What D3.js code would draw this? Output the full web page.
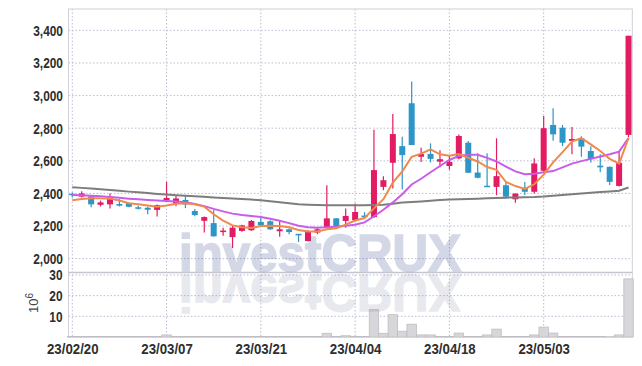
<!DOCTYPE html>
<html>
<head>
<meta charset="utf-8">
<script src="https://cdn.jsdelivr.net/npm/d3@7"></script>
<style>
  body { margin: 0; background: #fff; }
  .eje text { font-family: "Liberation Sans", Arial, sans-serif; font-weight: bold; font-size: 15px; fill: #2e2e2e; }
</style>
</head>
<body>
<svg id="grafica"></svg>
<script>
// fechas de cada vela (aa/mm/dd)
const dates = ["23/02/20","23/02/21","23/02/22","23/02/23","23/02/24","23/02/27","23/02/28","23/03/02","23/03/03","23/03/06",
  "23/03/07","23/03/08","23/03/09","23/03/10","23/03/13","23/03/14","23/03/15","23/03/16","23/03/17","23/03/20",
  "23/03/21","23/03/22","23/03/23","23/03/24","23/03/27","23/03/28","23/03/29","23/03/30","23/03/31","23/04/03",
  "23/04/04","23/04/05","23/04/06","23/04/07","23/04/10","23/04/11","23/04/12","23/04/13","23/04/14","23/04/17",
  "23/04/18","23/04/19","23/04/20","23/04/21","23/04/24","23/04/25","23/04/26","23/04/27","23/04/28","23/05/02",
  "23/05/03","23/05/04","23/05/08","23/05/09","23/05/10","23/05/11","23/05/12","23/05/15","23/05/16","23/05/17"];

const open  = [2398,2380,2381,2330,2333,2335,2340,2315,2312,2299, 2358,2338,2360,2292,2232,2218,2163,2132,2170,2174,
  2225,2229,2168,2180,2152,2108,2160,2190,2247,2231, 2236,2264,2255,2440,2588,2690,2953,2625,2642,2595,
  2568,2615,2711,2528,2447,2440,2450,2364,2435,2410, 2539,2820,2803,2722,2738,2660,2570,2563,2446,2759];
const high  = [2405,2413,2385,2356,2400,2365,2345,2325,2318,2332, 2471,2385,2390,2305,2258,2300,2190,2205,2208,2237,
  2255,2235,2237,2185,2152,2175,2188,2450,2250,2307, 2338,2285,2790,2505,2887,2748,3086,2680,2707,2665,
  2630,2762,2721,2646,2646,2738,2470,2400,2470,2615, 2875,2922,2820,2808,2750,2690,2640,2565,2655,3367];
const low   = [2375,2375,2315,2320,2308,2320,2315,2302,2272,2258, 2350,2322,2310,2260,2160,2135,2140,2065,2165,2170,
  2195,2175,2135,2150,2102,2105,2150,2185,2190,2190, 2228,2245,2250,2420,2430,2424,2697,2592,2590,2560,
  2545,2610,2525,2493,2442,2389,2369,2342,2390,2400, 2535,2723,2690,2640,2625,2590,2530,2452,2443,2745];
const close = [2390,2400,2333,2345,2375,2325,2318,2311,2300,2328, 2372,2369,2332,2268,2255,2137,2172,2190,2204,2231,
  2205,2180,2180,2163,2147,2163,2180,2247,2195,2262, 2286,2254,2543,2481,2764,2635,2697,2641,2612,2610,
  2594,2752,2527,2496,2443,2506,2380,2399,2410,2584, 2800,2762,2711,2734,2687,2610,2560,2471,2588,3367];

// volumen en millones
const volume = [0.2,0.2,0.2,0.2,0.2,0.2,0.2,0.2,0.2,0.2, 1.0,0.2,0.2,0.2,0.2,0.2,0.2,0.2,0.2,0.2,
  0.2,0.2,0.2,0.2,0.2,0.2,0.2,1.8,0.3,0.6, 0.3,0.3,13.2,1.8,10.8,2.8,6.2,1.0,1.0,0.3,
  0.3,1.9,0.3,0.3,1.0,3.8,0.3,0.3,0.3,1.0, 4.8,1.9,0.3,0.3,0.3,0.3,0.3,0.1,1.0,28.1];

// medias móviles
const ma_short = [2358,2366,2370,2370,2368,2356,2340,2334,2326,2318, 2326,2336,2340,2334,2319,2272,2233,2204,2192,2188,
  2200,2202,2200,2192,2176,2167,2167,2180,2187,2209, 2234,2249,2308,2365,2466,2535,2624,2644,2670,2640,
  2631,2642,2619,2596,2562,2545,2470,2445,2428,2456, 2515,2591,2653,2718,2739,2701,2660,2612,2583,2740];
const ma_mid = [2390,2388,2385,2382,2378,2373,2368,2364,2360,2356, 2353,2350,2346,2335,2322,2305,2290,2276,2268,2262,
  2255,2245,2232,2218,2202,2193,2190,2192,2196,2202, 2208,2222,2260,2300,2345,2395,2455,2490,2530,2568,
  2605,2630,2637,2637,2618,2596,2565,2535,2518,2520, 2530,2537,2560,2583,2598,2612,2626,2640,2656,2740];
const ma_long = [2438,2434,2430,2425,2421,2416,2411,2407,2402,2397, 2393,2389,2385,2382,2379,2375,2372,2369,2366,2362,
  2358,2352,2346,2340,2334,2331,2329,2328,2327,2327, 2327,2328,2329,2331,2336,2344,2348,2351,2355,2359,
  2362,2364,2366,2368,2370,2372,2374,2375,2377,2378, 2381,2386,2391,2395,2399,2404,2408,2412,2416,2436];

const price_ticks = [2000,2200,2400,2600,2800,3000,3200,3400];
const vol_ticks = [10,20,30];
const date_ticks = ["23/02/20","23/03/07","23/03/21","23/04/04","23/04/18","23/05/03"];

const svg_w = 642;
const svg_h = 366;
const margin = {l:68.5, r:9.7, t:9}
const price_bottom = 272.5; // separación entre precio y volumen
const vol_bottom = 337;
const plot_w = svg_w - margin.l - margin.r;

const color_up = "#e31b63";
const color_down = "#2e95c7";

// ancho estrecho de las etiquetas (la fuente original es condensada)
function label_len(s) {
  let w = 0;
  for (const c of s) w += c == "," ? 3.4 : c == "/" ? 6 : 6.6;
  return w;
}

let svg = d3.select("#grafica")
  .attr("width", svg_w)
  .attr("height", svg_h)

let x_scale = d3.scalePoint()
  .domain(dates)
  .range([margin.l, svg_w - margin.r])
  .padding(0.4)

let y_scale = d3.scaleLinear()
  .domain([1915, 3531])
  .range([price_bottom, margin.t])

let v_scale = d3.scaleLinear()
  .domain([0, 31.2])
  .range([vol_bottom, price_bottom])

// rejilla punteada
let grid = svg.append("g")
grid.selectAll(".hp")
  .data(price_ticks)
  .enter()
  .append("line")
  .attr("x1", margin.l).attr("x2", svg_w - margin.r)
  .attr("y1", d => y_scale(d)).attr("y2", d => y_scale(d))
grid.selectAll(".hv")
  .data(vol_ticks)
  .enter()
  .append("line")
  .attr("x1", margin.l).attr("x2", svg_w - margin.r)
  .attr("y1", d => v_scale(d)).attr("y2", d => v_scale(d))
grid.selectAll(".vx")
  .data(date_ticks)
  .enter()
  .append("line")
  .attr("x1", d => x_scale(d)).attr("x2", d => x_scale(d))
  .attr("y1", margin.t).attr("y2", vol_bottom)
grid.selectAll("line")
  .attr("stroke", "#b9bdd0")
  .attr("stroke-width", 1)
  .attr("stroke-dasharray", "1.5,2")

// marco de los paneles
svg.append("rect")
  .attr("x", margin.l).attr("y", margin.t)
  .attr("width", plot_w).attr("height", vol_bottom - margin.t)
  .attr("fill", "none")
  .attr("stroke", "#cfd0d8")
svg.append("line")
  .attr("x1", margin.l).attr("x2", svg_w - margin.r)
  .attr("y1", price_bottom).attr("y2", price_bottom)
  .attr("stroke", "#c4c5cf")
  .attr("stroke-width", 1.5)

// volumen
svg.append("g")
  .selectAll("rect")
  .data(volume)
  .enter()
  .append("rect")
  .attr("x", (d,i) => x_scale(dates[i]) - x_scale.step()/2)
  .attr("y", d => v_scale(d))
  .attr("width", x_scale.step())
  .attr("height", d => vol_bottom - v_scale(d))
  .attr("fill", "#d7d7db")
  .attr("stroke", "#bdbdc3")
  .attr("stroke-width", 0.8)

// velas
let candles = svg.append("g")
  .selectAll("g")
  .data(dates)
  .enter()
  .append("g")
  .attr("transform", d => `translate(${x_scale(d)},0)`)

candles.append("line")
  .attr("y1", (d,i) => y_scale(high[i]))
  .attr("y2", (d,i) => y_scale(low[i]))
  .attr("stroke", (d,i) => close[i] >= open[i] ? color_up : color_down)
  .attr("stroke-width", 1.2)

candles.append("rect")
  .attr("x", -3)
  .attr("width", 6)
  .attr("y", (d,i) => y_scale(Math.max(open[i], close[i])))
  .attr("height", (d,i) => Math.max(1.5, Math.abs(y_scale(open[i]) - y_scale(close[i]))))
  .attr("fill", (d,i) => close[i] >= open[i] ? color_up : color_down)

// medias móviles
let line = d3.line()
  .x((d,i) => x_scale(dates[i]))
  .y(d => y_scale(d))

svg.append("path").datum(ma_long)
  .attr("d", line).attr("fill", "none")
  .attr("stroke", "#7d7d7d").attr("stroke-width", 2)
svg.append("path").datum(ma_mid)
  .attr("d", line).attr("fill", "none")
  .attr("stroke", "#c95ce9").attr("stroke-width", 2)
svg.append("path").datum(ma_short)
  .attr("d", line).attr("fill", "none")
  .attr("stroke", "#ef8a4c").attr("stroke-width", 2)

// marca de agua y su reflejo
svg.append("text")
  .attr("x", 179).attr("y", 270.5)
  .attr("textLength", 282).attr("lengthAdjust", "spacingAndGlyphs")
  .style("font-family", "'Liberation Sans', Arial, sans-serif")
  .style("font-weight", "bold").style("font-size", "52px")
  .attr("fill", "#3b4c8f").attr("stroke", "#3b4c8f").attr("stroke-width", 1.6)
  .attr("opacity", 0.21)
  .text("investCRUX")
svg.append("text")
  .attr("transform", `translate(0,${2*272.5}) scale(1,-1)`)
  .attr("x", 179).attr("y", 270.5)
  .attr("textLength", 282).attr("lengthAdjust", "spacingAndGlyphs")
  .style("font-family", "'Liberation Sans', Arial, sans-serif")
  .style("font-weight", "bold").style("font-size", "52px")
  .attr("fill", "#6e6e96").attr("stroke", "#6e6e96").attr("stroke-width", 1.6)
  .attr("opacity", 0.15)
  .text("investCRUX")

// ejes
svg.append("g")
  .attr("class", "eje")
  .attr("transform", `translate(${margin.l},0)`)
  .call(d3.axisLeft(y_scale).tickValues(price_ticks).tickSize(0).tickPadding(5.5).tickFormat(d3.format(",")))
  .call(g => g.select(".domain").remove())

svg.append("g")
  .attr("class", "eje")
  .attr("transform", `translate(${margin.l},0)`)
  .call(d3.axisLeft(v_scale).tickValues(vol_ticks).tickSize(0).tickPadding(6))
  .call(g => g.select(".domain").remove())

svg.append("g")
  .attr("class", "eje")
  .attr("transform", `translate(0,${vol_bottom})`)
  .call(d3.axisBottom(x_scale).tickValues(date_ticks).tickSize(0).tickPadding(6.5))
  .call(g => g.select(".domain").remove())

svg.selectAll(".eje text")
  .attr("font-family", null).attr("font-size", null)
  .attr("textLength", function() { return label_len(this.textContent) })
  .attr("lengthAdjust", "spacingAndGlyphs")

// etiqueta de unidades del volumen
let unit = svg.append("text")
  .attr("transform", "translate(38,303) rotate(-90)")
  .attr("text-anchor", "middle")
  .style("font-family", "'Liberation Sans', sans-serif")
  .style("font-size", "13px")
  .attr("fill", "#444")
unit.append("tspan").text("10")
unit.append("tspan").attr("dy", -5).style("font-size", "10px").text("6")
</script>
</body>
</html>
